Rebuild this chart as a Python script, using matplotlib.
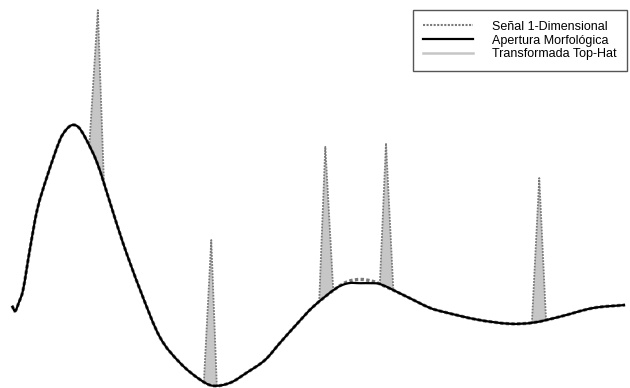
"""
Top-hat transform of a 1-D signal: signal, morphological opening and the
residue (signal - opening) shaded in grey.
"""

import matplotlib
matplotlib.use('Agg')
import matplotlib.pyplot as plt
from matplotlib.lines import Line2D
from matplotlib.path import Path
from matplotlib.patches import PathPatch
import numpy as np

# smooth background of the signal (position, amplitude)
base_t = [0, 0.5, 1.1, 1.8, 2.9, 4.1, 5.7, 7.8, 8.8, 9.8, 10.8, 11.9, 13.9,
          16.0, 18.1, 20.9, 24.1, 27.4, 30.7, 32.8, 35.6, 38.3, 41.3, 43.7,
          46.5, 49.1, 53.0, 54.9, 56.8, 58.6, 60.0, 64.4, 68.2, 70.3, 75.9,
          81.2, 85.0, 89.4, 94.8, 100]
base_a = [21.3, 19.9, 22.1, 25.5, 36.2, 46.8, 55.6, 65.4, 68.1, 69.4, 68.9,
          66.2, 59.3, 48.7, 38.0, 25.5, 13.0, 6.1, 1.6, 0.0, 0.8, 3.5, 6.9,
          11.4, 16.5, 21.0, 26.1, 27.8, 28.3, 27.9, 27.1, 23.7, 20.7, 19.7,
          17.6, 16.5, 16.8, 18.4, 20.7, 21.5]
# opening: same curve, flattened on the small hump between peaks 3 and 4
open_a = [21.3, 19.9, 22.1, 25.5, 36.2, 46.8, 55.6, 65.4, 68.1, 69.4, 68.9,
          66.2, 59.3, 48.7, 38.0, 25.5, 13.0, 6.1, 1.6, 0.0, 0.8, 3.5, 6.9,
          11.4, 16.5, 21.0, 26.1, 27.3, 27.3, 27.3, 27.1, 23.7, 20.7, 19.7,
          17.6, 16.5, 16.8, 18.4, 20.7, 21.5]

# narrow peaks riding on the background
peak_left = [12.6, 31.3, 50.1, 60.0, 84.8]
peak_t = [14.0, 32.5, 51.1, 61.0, 86.0]
peak_right = [15.0, 33.4, 52.4, 62.2, 87.1]
peak_a = [100.0, 38.8, 63.6, 64.6, 55.3]

labels = ['Señal 1-Dimensional', 'Apertura Morfológica', 'Transformada Top-Hat']

plt.rcParams['font.family'] = ['Liberation Sans', 'DejaVu Sans']

SIG_COLOR = '#7a7a7a'
SIG_STYLE = (0, (1, 0.7))
HAT_COLOR = '#c6c6c6'


def smooth_path(t, a):
    """Cubic Bezier path through every (t, a) point (Hermite tangents)."""
    t = np.asarray(t, float)
    a = np.asarray(a, float)
    n = len(t)
    m = np.zeros(n)
    m[0] = (a[1] - a[0]) / (t[1] - t[0])
    m[-1] = (a[-1] - a[-2]) / (t[-1] - t[-2])
    for i in range(1, n - 1):
        m[i] = (a[i + 1] - a[i - 1]) / (t[i + 1] - t[i - 1])
    verts = [(t[0], a[0])]
    codes = [Path.MOVETO]
    for i in range(n - 1):
        h = t[i + 1] - t[i]
        verts += [(t[i] + h / 3, a[i] + m[i] * h / 3),
                  (t[i + 1] - h / 3, a[i + 1] - m[i + 1] * h / 3),
                  (t[i + 1], a[i + 1])]
        codes += [Path.CURVE4] * 3
    return Path(verts, codes)


fig = plt.figure(figsize=(6.3, 3.88), dpi=100)
ax = fig.add_axes([0, 0, 1, 1])
ax.axis('off')

# top-hat residue and the peaks of the signal
for l, p, r, a in zip(peak_left, peak_t, peak_right, peak_a):
    al = np.interp(l, base_t, open_a)
    ar = np.interp(r, base_t, open_a)
    ax.fill([l, p, r], [al, a, ar], color=HAT_COLOR, linewidth=0, zorder=1)
    ax.plot([l, p, r], [al, a, ar], color=SIG_COLOR, linestyle=SIG_STYLE,
            linewidth=1.3, zorder=2)

# signal background (dotted) under the opening (solid)
ax.add_patch(PathPatch(smooth_path(base_t, base_a), fill=False, edgecolor=SIG_COLOR,
                       linestyle=SIG_STYLE, linewidth=2.4, zorder=2))
ax.add_patch(PathPatch(smooth_path(base_t, open_a), fill=False, edgecolor='black',
                       linewidth=1.6, zorder=3))

ax.set_xlim(-1.96, 100.8)
ax.set_ylim(-0.6, 102.7)

handles = [
    Line2D([], [], color=SIG_COLOR, linestyle=SIG_STYLE, linewidth=1.5),
    Line2D([], [], color='black', linewidth=1.6),
    Line2D([], [], color=HAT_COLOR, linewidth=1.8),
]
leg = ax.legend(handles, labels, loc='upper right', bbox_to_anchor=(0.996, 0.974),
                bbox_transform=fig.transFigure, fontsize=9, frameon=True,
                fancybox=False, framealpha=1, edgecolor='#555555',
                borderpad=0.85, labelspacing=0.15, handlelength=4.0,
                handletextpad=1.5, borderaxespad=0)
leg.get_frame().set_linewidth(1.0)

plt.savefig('out.png', dpi=100)
plt.close()
